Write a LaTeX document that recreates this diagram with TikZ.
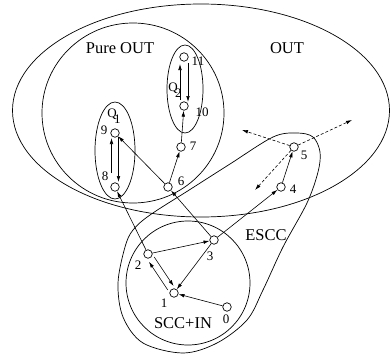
\documentclass[tikz,border=0pt]{standalone}
\usepackage{fontspec}
\setmainfont{Liberation Serif}
\usetikzlibrary{arrows.meta,calc}
\begin{document}
\begin{tikzpicture}[x=1pt,y=-1pt,
  vtx/.style={circle,draw,line width=0.7pt,minimum size=8.5pt,inner sep=0pt},
  arr/.style={-{Latex[length=6pt,width=3.6pt]},line width=0.6pt},
  darr/.style={arr,dash pattern=on 3pt off 2pt},
  region/.style={draw,line width=0.7pt},
  big/.style={font=\fontsize{16.5}{18}\selectfont,inner sep=0pt},
  lab/.style={font=\fontsize{13}{14}\selectfont,inner sep=0pt}]
\useasboundingbox (0,0) rectangle (391,356);
% regions
\draw[region] (201,110.5) ellipse [x radius=188.5pt, y radius=106.5pt];
\draw[region] (133,113) ellipse [x radius=91pt, y radius=90pt];
\draw[region] (115,150.5) ellipse [x radius=20pt, y radius=48.5pt];
\draw[region] (185,89) ellipse [x radius=18pt, y radius=44pt];
\draw[region] (188,283) circle [radius=62pt];
\draw[region] plot[smooth cycle, tension=0.55] coordinates {
  (297,133) (313,137) (320,152) (318,172) (307,203) (283,247) (263,290)
  (247,320) (217,343) (183,353) (143,343) (123,317) (118,283) (125,247)
  (133,230) (150,215) (190,189.5) (230,164) (273,137)};
% region labels
\node[big] (tpure) at (120,48) {Pure OUT};
\node[big] (tout) at (287,48) {OUT};
\node[big] (tescc) at (266,235) {ESCC};
\node[big] (tscc) at (183,323) {SCC+IN};
\node[lab] (tq1) at (114,116) {Q\kern-2.5pt\raisebox{-5.5pt}{1}};
\node[lab] (tq2) at (175,90) {Q\kern-2.5pt\raisebox{-5.5pt}{2}};
% vertices
\node[vtx] (n0) at (227,307) {};
\node[vtx] (n1) at (174,293) {};
\node[vtx] (n2) at (148,254) {};
\node[vtx] (n3) at (214,240) {};
\node[vtx] (n4) at (281,187) {};
\node[vtx] (n5) at (294,147) {};
\node[vtx] (n6) at (168,187) {};
\node[vtx] (n7) at (181,147) {};
\node[vtx] (n8) at (115,187) {};
\node[vtx] (n9) at (115,133) {};
\node[vtx] (n10) at (184,106) {};
\node[vtx] (n11) at (184,57) {};
% vertex labels
\node[lab] (l0) at (226,319) {0};
\node[lab] (l1) at (164,303) {1};
\node[lab] (l2) at (138,265) {2};
\node[lab] (l3) at (210,256) {3};
\node[lab] (l4) at (293,189) {4};
\node[lab] (l5) at (304,155) {5};
\node[lab] (l6) at (181,181) {6};
\node[lab] (l7) at (193,146) {7};
\node[lab] (l8) at (105,176) {8};
\node[lab] (l9) at (104,130) {9};
\node[lab] (l10) at (202,112) {10};
\node[lab] (l11) at (198,61) {11};
% dashed free ends
\coordinate (d1) at (242,130);
\coordinate (d2) at (352,120);
\coordinate (d3) at (255,190);
% edges
\draw[arr] (n0) -- (n1);
\draw[arr] (n3) -- (n1);
\draw[arr] (n2) -- (n3);
\draw[arr,shorten <=6pt,shorten >=6pt] ($(n2)!3.5pt!90:(n1)$) -- ($(n1)!3.5pt!-90:(n2)$);
\draw[arr,shorten <=6pt,shorten >=7pt] ($(n1)!3.5pt!90:(n2)$) -- ($(n2)!3.5pt!-90:(n1)$);
\draw[arr] (n2) -- (n8);
\draw[arr] (n3) -- (n6);
\draw[arr] (n3) -- (n4);
\draw[arr] (n4) -- (n5);
\draw[arr] (n6) -- (n9);
\draw[arr] (n6) -- (n7);
\draw[arr] (n7) -- (n10);
\draw[arr,shorten <=14pt,shorten >=5pt] ($(n8)!3.5pt!90:(n9)$) -- ($(n9)!3.5pt!-90:(n8)$);
\draw[arr,shorten <=4pt,shorten >=5pt] ($(n9)!3.5pt!90:(n8)$) -- ($(n8)!3.5pt!-90:(n9)$);
\draw[arr,shorten <=6pt,shorten >=7pt] ($(n10)!4pt!90:(n11)$) -- ($(n11)!4pt!-90:(n10)$);
\draw[arr,shorten <=6pt,shorten >=4pt] ($(n11)!4pt!90:(n10)$) -- ($(n10)!4pt!-90:(n11)$);
\draw[darr] (n5) -- (d1);
\draw[darr] (n5) -- (d2);
\draw[darr] (n5) -- (d3);
\end{tikzpicture}
\end{document}
